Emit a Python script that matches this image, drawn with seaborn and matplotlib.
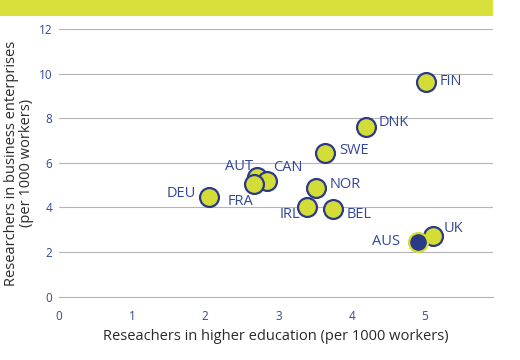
import numpy as np
import pandas as pd
import matplotlib
matplotlib.use("Agg")
import matplotlib.pyplot as plt
import seaborn as sns
from matplotlib.patches import Rectangle

# Data
countries = ['FIN', 'DNK', 'SWE', 'AUT', 'CAN', 'FRA', 'DEU', 'NOR', 'IRL', 'BEL', 'UK', 'AUS']
higher_edu = [5.02, 4.20, 3.64, 2.70, 2.85, 2.66, 2.05, 3.52, 3.39, 3.75, 5.11, 4.91]
business = [9.65, 7.62, 6.45, 5.38, 5.20, 5.04, 4.47, 4.86, 4.03, 3.93, 2.72, 2.43]
highlight = 'AUS'

x_ticks = [0, 1, 2, 3, 4, 5]
y_ticks = [0, 2, 4, 6, 8, 10, 12]

# label offsets in pixels (dx, dy, ha)
label_offsets = {
    'FIN': (13, 0, 'left'), 'DNK': (12, 4, 'left'), 'SWE': (14, 2, 'left'),
    'AUT': (-4, 10, 'right'), 'CAN': (6, 13, 'left'), 'FRA': (0, -17, 'right'),
    'DEU': (-13, 3, 'right'), 'NOR': (13, 4, 'left'), 'IRL': (-7, -8, 'right'),
    'BEL': (13, -6, 'left'), 'UK': (11, 7, 'left'), 'AUS': (-18, 1, 'right'),
}

YELLOW = '#d4dd38'
NAVY = '#2b3a86'
LABEL_BLUE = '#33479a'
GRID = '#b4b4b4'

df = pd.DataFrame({'country': countries, 'x': higher_edu, 'y': business})
df['is_hl'] = df['country'] == highlight

sns.set_style('white')
plt.rcParams['font.family'] = ['Open Sans', 'DejaVu Sans']

fig = plt.figure(figsize=(5.2, 3.6), dpi=100)
ax = fig.add_axes([59 / 520, 63.5 / 360, (493.3 - 59) / 520, (296.5 - 29.3) / 360])

# top banner
fig.patches.append(Rectangle((0, 1 - 16 / 360), 493 / 520, 16 / 360, transform=fig.transFigure,
                             facecolor='#d9e03c', edgecolor='none', zorder=0))

for yv in y_ticks[1:]:
    ax.axhline(yv, color=GRID, lw=0.8, zorder=1)

sns.scatterplot(data=df[~df['is_hl']], x='x', y='y', s=185, color=YELLOW,
                edgecolor=NAVY, linewidth=1.6, ax=ax, zorder=3, legend=False)
sns.scatterplot(data=df[df['is_hl']], x='x', y='y', s=185, color=NAVY,
                edgecolor=YELLOW, linewidth=1.6, ax=ax, zorder=4, legend=False)

for _, r in df.iterrows():
    dx, dy, ha = label_offsets[r['country']]
    ax.annotate(r['country'], (r['x'], r['y']), xytext=(dx * 0.72, dy * 0.72),
                textcoords='offset points', ha=ha, va='center', fontsize=10.5, color=LABEL_BLUE)

ax.set_xlim(0, (493.3 - 59.3) / 73.1)
ax.set_ylim(0, 12)
ax.set_xticks(x_ticks)
ax.set_yticks(y_ticks)
ax.tick_params(axis='x', direction='in', length=4, width=0.8, color=GRID, pad=10,
               labelsize=8.5, labelcolor=LABEL_BLUE)
ax.tick_params(axis='y', length=0, pad=5, labelsize=8.5, labelcolor=LABEL_BLUE)

for side in ['top', 'right', 'left']:
    ax.spines[side].set_visible(False)
ax.spines['bottom'].set_color(GRID)
ax.spines['bottom'].set_linewidth(0.8)

ax.set_xlabel('Reseachers in higher education (per 1000 workers)', fontsize=10.5, color='#2a2a2a', labelpad=4)
ax.set_ylabel('Researchers in business enterprises\n(per 1000 workers)', fontsize=10.5, color='#2a2a2a',
              labelpad=3, linespacing=1.0)

fig.savefig('out.png', dpi=100)
